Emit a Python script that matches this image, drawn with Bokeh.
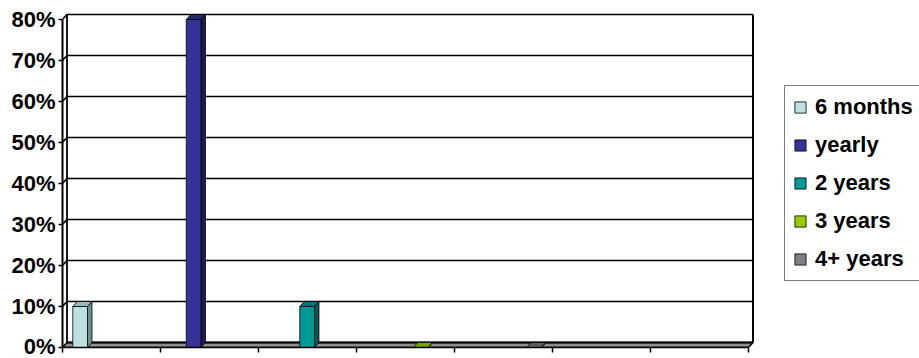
from bokeh.plotting import figure
from bokeh.models import Range1d, Legend, LegendItem, FixedTicker
from bokeh.embed import file_html
from bokeh.resources import INLINE

# Share of respondents per interval
series = ["6 months", "yearly", "2 years", "3 years", "4+ years"]
shares = [10, 80, 10, 0, 0]
front_colors = ["#BDE0E3", "#333399", "#009999", "#99CC00", "#808080"]
side_colors = ["#6C8E90", "#1C1C55", "#005A5A", "#5E7D00", "#4A4A4A"]
top_colors = ["#98BABD", "#27276F", "#007777", "#79A300", "#5E5E5E"]
n_slots = 7
y_ticks = [0, 10, 20, 30, 40, 50, 60, 70, 80]

# layout scale (pixels per data unit) and the 3-D depth offset
PX_X = 98.0
PX_Y = 4.1
DEPTH_X = 4.5 / PX_X
DEPTH_Y = 5.0 / PX_Y
FRAME_W, FRAME_H = 693, 337
GAP = 0.105      # space before the first bar of a slot
STEP = 0.158     # bar pitch inside a slot
BAR_W = 0.150    # bar front width

FONT = "Liberation Sans"

p = figure(width=919, height=358, frame_width=FRAME_W, frame_height=FRAME_H,
           x_range=Range1d(0, FRAME_W / PX_X), y_range=Range1d(0, FRAME_H / PX_Y),
           min_border_left=62, min_border_top=10, min_border_bottom=11,
           min_border_right=164, output_backend="svg", toolbar_location=None)
p.outline_line_color = None
p.grid.visible = False

top_val = y_ticks[-1]

# floor
p.patch([0, n_slots, n_slots + DEPTH_X, DEPTH_X], [0, 0, DEPTH_Y, DEPTH_Y],
        fill_color="#8E8E8E", line_color="black", line_width=1.5)

# gridlines on the back wall and their run across the side wall
gx, gy = [], []
for t in y_ticks[1:]:
    gx.append([0, DEPTH_X, n_slots + DEPTH_X])
    gy.append([t, t + DEPTH_Y, t + DEPTH_Y])
p.multi_line(gx, gy, line_color="black", line_width=1.6)
p.line([DEPTH_X, DEPTH_X], [DEPTH_Y, top_val + DEPTH_Y], line_color="black", line_width=1.8)
p.line([n_slots + DEPTH_X, n_slots + DEPTH_X], [DEPTH_Y, top_val + DEPTH_Y],
       line_color="black", line_width=2)
p.line([DEPTH_X, n_slots + DEPTH_X], [DEPTH_Y, DEPTH_Y], line_color="black", line_width=2.2)

# 3-D columns: one per interval, each in its own slot
items = []
for i, (name, v) in enumerate(zip(series, shares)):
    x0 = i + GAP + i * STEP
    x1 = x0 + BAR_W
    p.patch([x1, x1 + DEPTH_X, x1 + DEPTH_X, x1], [0, DEPTH_Y, v + DEPTH_Y, v],
            fill_color=side_colors[i], line_color="black", line_width=0.8)
    p.patch([x0, x1, x1 + DEPTH_X, x0 + DEPTH_X], [v, v, v + DEPTH_Y, v + DEPTH_Y],
            fill_color=top_colors[i], line_color="black", line_width=0.8)
    r = p.quad(left=[x0], right=[x1], bottom=[0], top=[v],
               fill_color=front_colors[i], line_color="black", line_width=0.8)
    items.append(LegendItem(label=name, renderers=[r]))

# value axis
p.yaxis.ticker = FixedTicker(ticks=y_ticks)
p.yaxis.bounds = (0, top_val)
p.yaxis.major_label_overrides = {t: f"{t}%" for t in y_ticks}
p.yaxis.major_label_text_font = FONT
p.yaxis.major_label_text_font_style = "bold"
p.yaxis.major_label_text_font_size = "22px"
p.yaxis.major_label_text_color = "black"
p.yaxis.major_label_standoff = 3
p.yaxis.major_tick_out = 4
p.yaxis.major_tick_in = 0
p.yaxis.minor_tick_line_color = None
p.yaxis.axis_line_width = 2
p.yaxis.major_tick_line_width = 1.5

# category axis (no labels)
p.xaxis.ticker = FixedTicker(ticks=list(range(n_slots + 1)))
p.xaxis.bounds = (0, n_slots)
p.xaxis.major_label_overrides = {t: "" for t in range(n_slots + 1)}
p.xaxis.major_label_text_font_size = "1px"
p.xaxis.major_label_standoff = 0
p.xaxis.major_tick_out = 5
p.xaxis.major_tick_in = 0
p.xaxis.minor_tick_line_color = None
p.xaxis.axis_line_width = 1.5
p.xaxis.major_tick_line_width = 1.5

legend = Legend(items=items, location=(29, 66), margin=0, padding=8, spacing=12,
                glyph_width=14, glyph_height=14, label_standoff=8,
                label_text_font=FONT, label_text_font_style="bold",
                label_text_font_size="22px", label_text_color="black",
                border_line_color="black", border_line_width=1.5,
                background_fill_color="white")
p.add_layout(legend, "right")

open("out.html", "w").write(file_html(p, INLINE))
